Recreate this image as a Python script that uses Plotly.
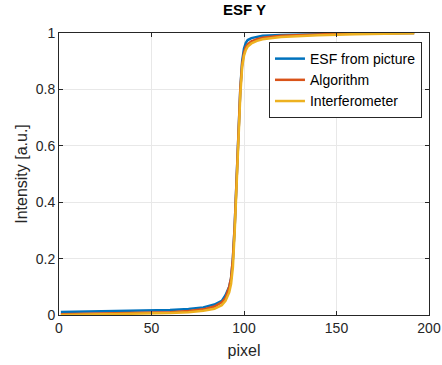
import plotly.graph_objects as go

x_vals = [1, 20, 40, 60, 70, 78, 84, 88, 90, 92, 93, 94, 95, 96, 97, 98, 99, 100, 101, 102, 104, 107, 110, 120, 140, 160, 192]
esf_picture = [0.011, 0.013, 0.015, 0.018, 0.021, 0.027, 0.037, 0.05, 0.07, 0.1, 0.13, 0.2, 0.32, 0.48, 0.65, 0.8, 0.9, 0.945, 0.965, 0.975, 0.982, 0.987, 0.99, 0.993, 0.996, 0.998, 1.0]
algorithm = [0.003, 0.005, 0.007, 0.01, 0.014, 0.02, 0.03, 0.045, 0.06, 0.1, 0.13, 0.2, 0.32, 0.48, 0.65, 0.8, 0.89, 0.93, 0.95, 0.96, 0.97, 0.978, 0.983, 0.99, 0.995, 0.998, 1.0]
interferometer = [0.0, 0.002, 0.004, 0.007, 0.01, 0.015, 0.022, 0.035, 0.05, 0.08, 0.11, 0.17, 0.3, 0.46, 0.63, 0.78, 0.88, 0.92, 0.94, 0.952, 0.963, 0.972, 0.978, 0.986, 0.992, 0.996, 0.999]

series_names = ["ESF from picture", "Algorithm", "Interferometer"]
series_colors = ["#0072BD", "#D95319", "#EDB120"]
x_ticks = [0, 50, 100, 150, 200]
y_ticks = [0, 0.2, 0.4, 0.6, 0.8, 1]
y_tick_labels = ["0", "0.2", "0.4", "0.6", "0.8", "1"]

fig = go.Figure()
for name, ys, col in zip(series_names, [esf_picture, algorithm, interferometer], series_colors):
    fig.add_trace(go.Scatter(x=x_vals, y=ys, mode="lines", name=name,
                             line=dict(color=col, width=2.5)))

axis_common = dict(showline=True, linecolor="#262626", linewidth=1, mirror="ticks",
                   ticks="inside", ticklen=4, tickcolor="#262626", automargin=False,
                   showgrid=True, gridcolor="#e8e8e8", gridwidth=1, zeroline=False,
                   tickfont=dict(size=14, color="#262626"))

fig.update_layout(
    width=442, height=365,
    margin=dict(l=59, r=13, t=33, b=50),
    paper_bgcolor="white", plot_bgcolor="white",
    font=dict(family="Liberation Sans, Arial, sans-serif", color="#262626"),
    title=dict(text="<b>ESF Y</b>", x=0.553, xanchor="center", y=0.972, yanchor="middle",
               font=dict(size=15, color="#000000")),
    xaxis=dict(range=[0, 200], tickvals=x_ticks,
               title=dict(text="pixel", font=dict(size=16, color="#262626"), standoff=10),
               **axis_common),
    yaxis=dict(range=[0, 1], tickvals=y_ticks, ticktext=y_tick_labels,
               title=dict(text="Intensity [a.u.]", font=dict(size=16, color="#262626"), standoff=4),
               **axis_common),
    legend=dict(x=0.981, y=0.968, xanchor="right", yanchor="top",
                bgcolor="white", bordercolor="#262626", borderwidth=1,
                font=dict(size=14, color="#000000"),
                tracegroupgap=0, itemwidth=30),
    showlegend=True,
)

fig.write_html("out.html", config={"displayModeBar": False},
               post_script="document.body.style.margin='0';document.body.style.padding='0';")
